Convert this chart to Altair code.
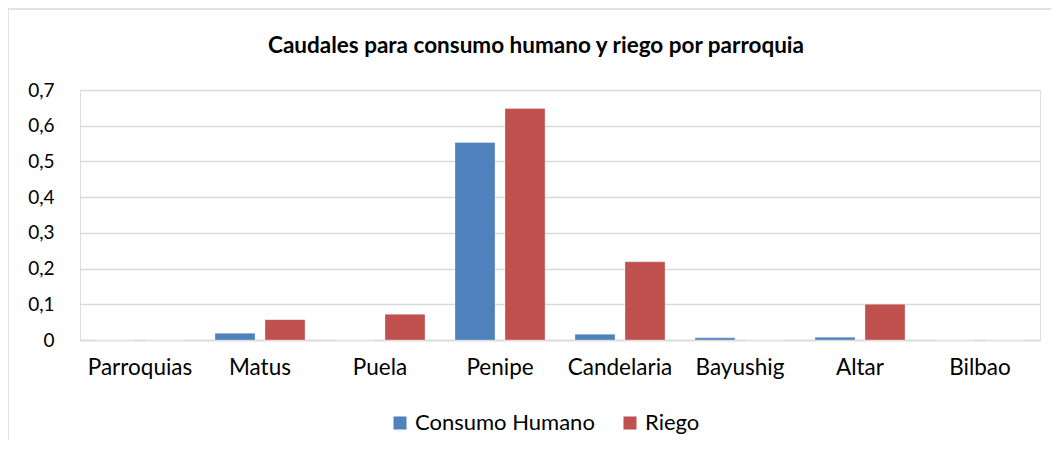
import altair as alt
import pandas as pd

categories = ["Parroquias", "Matus", "Puela", "Penipe", "Candelaria", "Bayushig", "Altar", "Bilbao"]
consumo_humano = [0.0, 0.019, 0.0, 0.553, 0.016, 0.006, 0.008, 0.0]
riego = [0.0, 0.057, 0.072, 0.648, 0.219, 0.0, 0.100, 0.0]
series = ["Consumo Humano", "Riego"]
colors = ["#4F81BD", "#C0504D"]
title_text = "Caudales para consumo humano y riego por parroquia"

rows = []
for c, a, b in zip(categories, consumo_humano, riego):
    rows.append({"Parroquia": c, "Serie": series[0], "Caudal": a})
    rows.append({"Parroquia": c, "Serie": series[1], "Caudal": b})
df = pd.DataFrame(rows)

FONT = "Lato"

bars = alt.Chart(df).mark_bar(stroke="white", strokeWidth=0.5, strokeOpacity=0.6).encode(
    x=alt.X("Parroquia:N", sort=categories,
            scale=alt.Scale(paddingInner=0.25, paddingOuter=0.125),
            axis=alt.Axis(title=None, labelAngle=0, labelFontSize=22.5, labelPadding=16,
                          ticks=False, domain=True, domainColor="#D9D9D9", domainWidth=1.5,
                          labelColor="#000000", labelFont=FONT, labelLimit=300)),
    xOffset=alt.XOffset("Serie:N", sort=series,
                        scale=alt.Scale(paddingInner=0.2, paddingOuter=0)),
    y=alt.Y("Caudal:Q", scale=alt.Scale(domain=[0, 0.7], nice=False),
            axis=alt.Axis(title=None, values=[0, 0.1, 0.2, 0.3, 0.4, 0.5, 0.6, 0.7],
                          labelExpr="datum.value == 0 ? '0' : replace(format(datum.value, '.1f'), '.', ',')",
                          labelFontSize=19, labelPadding=26, ticks=False, domain=False,
                          grid=True, gridColor="#D9D9D9", gridWidth=1.3,
                          labelColor="#000000", labelFont=FONT)),
    color=alt.Color("Serie:N", sort=series,
                    scale=alt.Scale(domain=series, range=colors),
                    legend=alt.Legend(title=None, orient="none", direction="horizontal",
                                      legendX=309, legendY=322, symbolType="square",
                                      symbolSize=170, symbolStrokeWidth=0,
                                      labelFontSize=22, labelFont=FONT, labelColor="#000000",
                                      labelLimit=400, columnPadding=24, labelOffset=4)),
)

frame_df = pd.DataFrame({"k": [0]})
top_line = alt.Chart(frame_df).mark_rule(color="#D9D9D9", strokeWidth=1.5, clip=False).encode(
    x=alt.value(-72), x2=alt.value(990), y=alt.value(-81))
left_line = alt.Chart(frame_df).mark_rule(color="#D9D9D9", strokeWidth=1.5, clip=False).encode(
    x=alt.value(-72), y=alt.value(-81), y2=alt.value(370))

title_df = pd.DataFrame({"t": [title_text]})
title = alt.Chart(title_df).mark_text(font=FONT, fontSize=22.5, fontWeight="bold", color="#000000",
                                      align="center", baseline="alphabetic", clip=False).encode(
    text="t:N", x=alt.value(456), y=alt.value(-37))

chart = alt.layer(top_line, left_line, title, bars).properties(
    width=960, height=250,
    autosize=alt.AutoSizeParams(type="none"),
    padding={"left": 72, "top": 82, "right": 11, "bottom": 100},
).configure_view(stroke=None).configure(background="white")

chart.save("out.html", embed_options={"renderer": "svg", "actions": False})
